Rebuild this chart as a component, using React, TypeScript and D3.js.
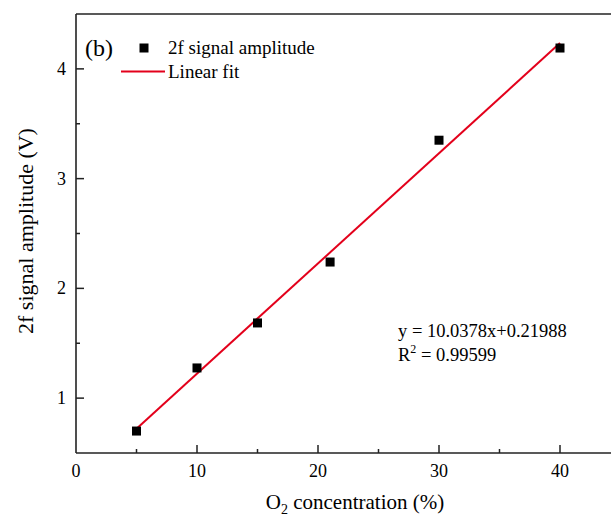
import React from "react";
import * as d3 from "d3";

const concentrations = [5, 10, 15, 21, 30, 40];
const amplitudes = [0.70, 1.275, 1.685, 2.24, 3.35, 4.19];
const slope = 10.0378;
const intercept = 0.21988;
const xTicks = [0, 10, 20, 30, 40];
const xMinor = [5, 15, 25, 35];
const yTicks = [1, 2, 3, 4];
const yMinor = [1.5, 2.5, 3.5];

const W = 611, H = 517;
const left = 76, top = 14, bottom = 453;

export default function App() {
  const x = d3.scaleLinear().domain([0, 40]).range([left, 560]);
  const y = d3.scaleLinear().domain([0.5, 4.5]).range([bottom, top]);
  const fitX = [5, 40];
  const line = d3.line<number>().x(d => x(d)).y(d => y(slope * d / 100 + intercept));
  const font = "'Liberation Serif', 'Times New Roman', serif";
  const axisColor = "#222";
  const red = "#e3001b";
  return (
    <svg width={W} height={H} style={{ position: "absolute", left: 0, top: 0 }} fontFamily={font}>
      <rect x={0} y={0} width={W} height={H} fill="#fff" />
      {/* frame */}
      <line x1={left} y1={top} x2={W} y2={top} stroke={axisColor} strokeWidth={1.6} />
      <line x1={left} y1={top} x2={left} y2={bottom} stroke={axisColor} strokeWidth={1.6} />
      <line x1={left} y1={bottom} x2={W} y2={bottom} stroke={axisColor} strokeWidth={1.6} />
      {/* x ticks */}
      {xTicks.map(t => (
        <g key={"xt" + t}>
          {t > 0 && <line x1={x(t)} x2={x(t)} y1={bottom} y2={bottom - 8} stroke={axisColor} strokeWidth={1.5} />}
          <text x={x(t)} y={bottom + 24} textAnchor="middle" fontSize={18}>{t}</text>
        </g>
      ))}
      {xMinor.map(t => (
        <line key={"xm" + t} x1={x(t)} x2={x(t)} y1={bottom} y2={bottom - 4} stroke={axisColor} strokeWidth={1.5} />
      ))}
      {/* y ticks */}
      {yTicks.map(t => (
        <g key={"yt" + t}>
          <line x1={left} x2={left + 8} y1={y(t)} y2={y(t)} stroke={axisColor} strokeWidth={1.5} />
          <text x={left - 10} y={y(t) + 6} textAnchor="end" fontSize={18}>{t}</text>
        </g>
      ))}
      {yMinor.map(t => (
        <line key={"ym" + t} x1={left} x2={left + 4} y1={y(t)} y2={y(t)} stroke={axisColor} strokeWidth={1.5} />
      ))}
      {/* fit line */}
      <path d={line(fitX) || ""} fill="none" stroke={red} strokeWidth={2} />
      {/* points */}
      {concentrations.map((c, i) => (
        <rect key={"p" + i} x={x(c) - 4.5} y={y(amplitudes[i]) - 4.5} width={9} height={9} fill="#000" />
      ))}
      {/* legend */}
      <text x={85} y={56} fontSize={24}>(b)</text>
      <rect x={139.5} y={43.5} width={9} height={9} fill="#000" />
      <text x={168} y={54} fontSize={19}>2f signal amplitude</text>
      <line x1={121} x2={165} y1={71.5} y2={71.5} stroke={red} strokeWidth={2} />
      <text x={168} y={78} fontSize={19}>Linear fit</text>
      {/* equation */}
      <text x={398} y={337} fontSize={18.5}>y = 10.0378x+0.21988</text>
      <text x={398} y={361} fontSize={18.5}>R<tspan dy={-8} fontSize={12}>2</tspan><tspan dy={8}> = 0.99599</tspan></text>
      {/* axis titles */}
      <text transform={`translate(33, 231) rotate(-90)`} textAnchor="middle" fontSize={22}>2f signal amplitude (V)</text>
      <text x={355} y={509} textAnchor="middle" fontSize={21}>O<tspan dy={5} fontSize={14}>2</tspan><tspan dy={-5}> concentration (%)</tspan></text>
    </svg>
  );
}
